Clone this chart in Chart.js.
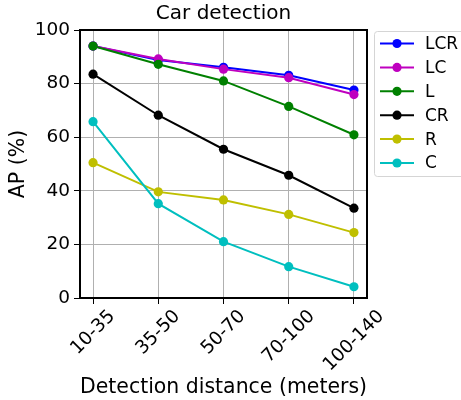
<!DOCTYPE html>
<html><head><meta charset="utf-8">
<script src="https://cdn.jsdelivr.net/npm/chart.js@4"></script>
<style>html,body{margin:0;padding:0;background:#fff}#wrap{width:461px;height:400px}</style>
</head><body><div id="wrap"><canvas id="c" width="461" height="400"></canvas></div>
<script>
const categories = ["10-35", "35-50", "50-70", "70-100", "100-140"];
const seriesNames = ["LCR", "LC", "L", "CR", "R", "C"];
const seriesColors = ["#0000ff", "#bf00bf", "#008000", "#000000", "#bfbf00", "#00bfbf"];
const LCR = [94.0, 88.8, 86.1, 83.1, 77.6];
const LC  = [94.0, 89.2, 85.4, 82.2, 75.9];
const L   = [94.0, 87.2, 81.0, 71.5, 60.9];
const CR  = [83.5, 68.2, 55.5, 45.8, 33.5];
const R   = [50.5, 39.6, 36.6, 31.2, 24.4];
const C   = [65.8, 35.2, 21.0, 11.7, 4.2];
const yTicks = [0, 20, 40, 60, 80, 100];
const seriesValues = [LCR, LC, L, CR, R, C];
const FONT = "'DejaVu Sans', sans-serif";

const datasets = seriesNames.map((n, i) => ({
  label: n,
  data: seriesValues[i].map((v, j) => ({x: j, y: v})),
  borderColor: seriesColors[i],
  backgroundColor: seriesColors[i],
  pointBackgroundColor: seriesColors[i],
  pointBorderWidth: 0,
  pointRadius: 4.6,
  pointHoverRadius: 4.6,
  borderWidth: 2,
  order: -i,
  clip: false
}));

const extras = {
  id: 'extras',
  afterDraw(chart) {
    const ctx = chart.ctx;
    const a = chart.chartArea;
    const xs = chart.scales.x;
    ctx.save();
    // frame
    ctx.strokeStyle = '#000';
    ctx.lineWidth = 2;
    ctx.strokeRect(a.left, a.top, a.right - a.left, a.bottom - a.top);
    // title
    ctx.fillStyle = '#000';
    ctx.font = '20px ' + FONT;
    ctx.textAlign = 'center';
    ctx.textBaseline = 'middle';
    ctx.fillText('Car detection', (a.left + a.right) / 2, 14);
    // x tick labels (rotated 45, centered bbox)
    ctx.font = '18.5px ' + FONT;
    categories.forEach((lab, i) => {
      const x = xs.getPixelForValue(i);
      const w = ctx.measureText(lab).width;
      const h = 18.5 * 1.0;
      const H = (w + h) * Math.SQRT1_2;
      const cy = a.bottom + 9 + H / 2;
      ctx.save();
      ctx.translate(x, cy);
      ctx.rotate(-Math.PI / 4);
      ctx.textAlign = 'center';
      ctx.textBaseline = 'middle';
      ctx.fillText(lab, 0, 0);
      ctx.restore();
    });
    // legend
    const lx = 374.5, ly = 31.5, lw = 100, lh = 145;
    ctx.beginPath();
    ctx.roundRect(lx, ly, lw, lh, 3);
    ctx.fillStyle = 'rgba(255,255,255,0.8)';
    ctx.fill();
    ctx.strokeStyle = '#d5d5d5';
    ctx.lineWidth = 1;
    ctx.stroke();
    ctx.font = '17px ' + FONT;
    ctx.textAlign = 'left';
    ctx.textBaseline = 'middle';
    seriesNames.forEach((n, i) => {
      const y = 43.5 + i * 23.9;
      ctx.strokeStyle = seriesColors[i];
      ctx.lineWidth = 2;
      ctx.beginPath(); ctx.moveTo(380, y); ctx.lineTo(414, y); ctx.stroke();
      ctx.fillStyle = seriesColors[i];
      ctx.beginPath(); ctx.arc(397, y, 4.6, 0, Math.PI * 2); ctx.fill();
      ctx.fillStyle = '#000';
      ctx.fillText(n, 425, y + 1);
    });
    ctx.restore();
  }
};

new Chart(document.getElementById('c'), {
  type: 'line',
  data: { datasets },
  options: {
    responsive: false,
    animation: false,
    events: [],
    layout: { padding: { left: 0, right: 94, top: 30, bottom: 0 } },
    plugins: { legend: { display: false }, tooltip: { enabled: false }, title: { display: false } },
    scales: {
      x: {
        type: 'linear',
        min: -0.2, max: 4.2,
        afterBuildTicks(s) { s.ticks = categories.map((c, i) => ({ value: i })); },
        afterFit(s) { s.height = 102; },
        ticks: { display: false },
        grid: { color: '#b0b0b0', lineWidth: 1, tickLength: 6, tickColor: '#000', drawTicks: true },
        border: { color: '#000', width: 2 },
        title: { display: true, text: 'Detection distance (meters)', color: '#000',
                 font: { family: FONT, size: 20.5 }, padding: { top: 0, bottom: 0 } }
      },
      y: {
        min: 0, max: 100,
        afterBuildTicks(s) { s.ticks = yTicks.map(v => ({ value: v })); },
        afterFit(s) { s.width = 80; },
        ticks: { color: '#000', font: { family: FONT, size: 18.5 }, padding: 4 },
        grid: { color: '#b0b0b0', lineWidth: 1, tickLength: 6, tickColor: '#000' },
        border: { color: '#000', width: 2 },
        title: { display: true, text: 'AP (%)', color: '#000',
                 font: { family: FONT, size: 20.5 }, padding: { top: 6, bottom: 0 } }
      }
    }
  },
  plugins: [extras]
});
</script></body></html>
